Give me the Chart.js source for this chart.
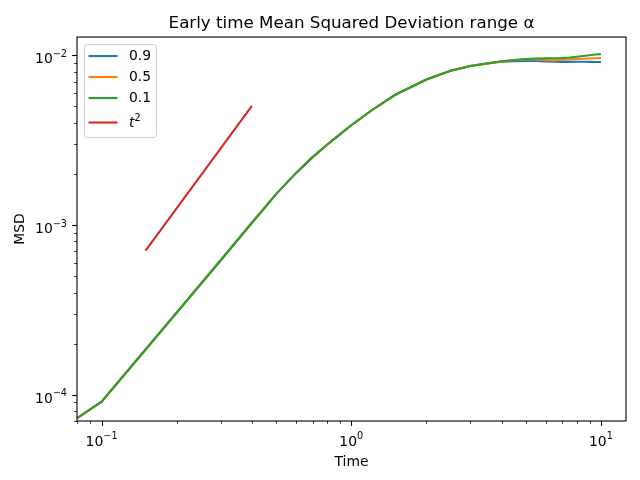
<!DOCTYPE html>
<html>
<head>
<meta charset="utf-8">
<title>Early time MSD</title>
<script src="https://cdn.jsdelivr.net/npm/chart.js@4.4.1/dist/chart.umd.min.js"></script>
<style>
    html, body { margin: 0; padding: 0; background: #ffffff; }
    #wrap { width: 640px; height: 480px; }
</style>
</head>
<body>
<div id="wrap"><canvas id="msd-chart" width="640" height="480"></canvas></div>
<script>
// Values
const times = [0.08, 0.1, 0.2, 0.3, 0.4, 0.5, 0.6, 0.7, 0.8, 0.9, 1.0, 1.2, 1.5, 2.0, 2.5, 3.0, 3.5,
               4.0, 4.5, 5.0, 5.5, 6.0, 6.5, 7.0, 7.5, 8.0, 8.5, 9.0, 9.5, 10.0];
const msdAlpha09 = [7.3e-5, 9.1e-5, 3.05e-4, 6.2e-4, 1.03e-3, 1.52e-3, 2.02e-3, 2.51e-3, 2.97e-3, 3.42e-3, 3.87e-3, 4.71e-3, 5.85e-3, 7.2e-3, 8.1e-3, 8.65e-3, 8.95e-3,
                    9.15e-3, 9.22e-3, 9.26e-3, 9.24e-3, 9.2e-3, 9.16e-3, 9.14e-3, 9.14e-3, 9.15e-3, 9.15e-3, 9.14e-3, 9.13e-3, 9.12e-3];
const msdAlpha05 = [7.3e-5, 9.1e-5, 3.05e-4, 6.2e-4, 1.03e-3, 1.52e-3, 2.02e-3, 2.51e-3, 2.97e-3, 3.42e-3, 3.87e-3, 4.71e-3, 5.85e-3, 7.2e-3, 8.1e-3, 8.65e-3, 8.95e-3,
                    9.2e-3, 9.35e-3, 9.45e-3, 9.43e-3, 9.36e-3, 9.33e-3, 9.4e-3, 9.46e-3, 9.5e-3, 9.54e-3, 9.57e-3, 9.6e-3, 9.62e-3];
const msdAlpha01 = [7.3e-5, 9.1e-5, 3.05e-4, 6.2e-4, 1.03e-3, 1.52e-3, 2.02e-3, 2.51e-3, 2.97e-3, 3.42e-3, 3.87e-3, 4.71e-3, 5.85e-3, 7.2e-3, 8.1e-3, 8.65e-3, 8.95e-3,
                    9.22e-3, 9.38e-3, 9.5e-3, 9.57e-3, 9.58e-3, 9.6e-3, 9.64e-3, 9.7e-3, 9.8e-3, 9.9e-3, 1.0e-2, 1.01e-2, 1.015e-2];
const refTimes = [0.15, 0.4];
const refT2 = [7.07e-4, 5.03e-3];

const seriesLabels = ['0.9', '0.5', '0.1', 't²'];
const xMajorTicks = [0.1, 1, 10];
const yMajorTicks = [1e-4, 1e-3, 1e-2];

const FONT = "'DejaVu Sans', 'Liberation Sans', sans-serif";
const BASE_SIZE = 13.9;
const SUP_SIZE = 9.7;
Chart.defaults.font.family = FONT;
Chart.defaults.color = '#000';

function toPoints(xs, ys) {
    return xs.map((x, i) => ({ x: x, y: ys[i] }));
}

// all decade multiples inside [min, max]
function minorTicks(min, max) {
    const out = [];
    for (let e = Math.floor(Math.log10(min)); e <= Math.ceil(Math.log10(max)); e++) {
        for (let m = 2; m <= 9; m++) {
            const v = m * Math.pow(10, e);
            if (v >= min && v <= max) out.push(v);
        }
    }
    return out;
}

// base text with a raised exponent, like matplotlib mathtext
function drawSup(ctx, base, exp, x, baseline, align, italic) {
    const baseFont = (italic ? 'italic ' : '') + BASE_SIZE + 'px ' + FONT;
    const supFont = SUP_SIZE + 'px ' + FONT;
    ctx.font = baseFont;
    const wb = ctx.measureText(base).width;
    ctx.font = supFont;
    const we = ctx.measureText(exp).width;
    let start = x;
    if (align === 'center') start = x - (wb + we) / 2;
    if (align === 'right') start = x - wb - we;
    ctx.textAlign = 'left';
    ctx.textBaseline = 'alphabetic';
    ctx.font = baseFont;
    ctx.fillText(base, start, baseline);
    ctx.font = supFont;
    ctx.fillText(exp, start + wb, baseline - 6.3);
}

function decadeExponent(v) {
    return String(Math.round(Math.log10(v))).replace('-', '\u2212');
}

// frame, matplotlib style tick marks and decade labels
const frameAndTicks = {
    id: 'frameAndTicks',
    afterDatasetsDraw(chart) {
        const { ctx, chartArea: a, scales: { x, y } } = chart;
        ctx.save();
        ctx.strokeStyle = '#000';
        ctx.lineWidth = 1.1;
        ctx.strokeRect(a.left, a.top, a.right - a.left, a.bottom - a.top);

        const mark = (vals, scale, len, width, horizontal) => {
            ctx.lineWidth = width;
            vals.forEach(v => {
                const p = Math.round(scale.getPixelForValue(v)) + 0.5;
                ctx.beginPath();
                if (horizontal) {
                    ctx.moveTo(p, a.bottom);
                    ctx.lineTo(p, a.bottom + len);
                } else {
                    ctx.moveTo(a.left, p);
                    ctx.lineTo(a.left - len, p);
                }
                ctx.stroke();
            });
        };
        mark(xMajorTicks, x, 4.9, 1.1, true);
        mark(minorTicks(x.min, x.max), x, 2.8, 0.8, true);
        mark(yMajorTicks, y, 4.9, 1.1, false);
        mark(minorTicks(y.min, y.max), y, 2.8, 0.8, false);

        ctx.fillStyle = '#000';
        xMajorTicks.forEach(v => {
            drawSup(ctx, '10', decadeExponent(v), x.getPixelForValue(v), a.bottom + 24.5, 'center', false);
        });
        yMajorTicks.forEach(v => {
            drawSup(ctx, '10', decadeExponent(v), a.left - 10, y.getPixelForValue(v) + 8, 'right', false);
        });
        ctx.restore();
    }
};

// legend box in the upper left corner of the axes
const insideLegend = {
    id: 'insideLegend',
    afterDraw(chart) {
        const { ctx, chartArea: a } = chart;
        const left = a.left + 7.5, top = a.top + 7.5, w = 72, h = 93;
        ctx.save();
        ctx.beginPath();
        ctx.roundRect(left, top, w, h, 3);
        ctx.fillStyle = 'rgba(255,255,255,0.8)';
        ctx.fill();
        ctx.strokeStyle = '#cccccc';
        ctx.lineWidth = 1;
        ctx.stroke();

        const rowY = [11.5, 32.5, 53.5, 78];
        chart.data.datasets.forEach((ds, i) => {
            const yy = top + rowY[i];
            ctx.strokeStyle = ds.borderColor;
            ctx.lineWidth = 2.1;
            ctx.beginPath();
            ctx.moveTo(left + 4, yy);
            ctx.lineTo(left + 33, yy);
            ctx.stroke();
            ctx.fillStyle = '#000';
            if (ds.mathParts) {
                drawSup(ctx, ds.mathParts[0], ds.mathParts[1], left + 44.5, yy + 4.8, 'left', true);
            } else {
                ctx.textBaseline = 'middle';
                ctx.textAlign = 'left';
                ctx.font = BASE_SIZE + 'px ' + FONT;
                ctx.fillText(ds.label, left + 44.5, yy);
            }
        });
        ctx.restore();
    }
};

const lineStyle = { borderWidth: 2.1, pointRadius: 0, tension: 0, fill: false };

new Chart(document.getElementById('msd-chart'), {
    type: 'line',
    data: {
        datasets: [
            { label: seriesLabels[0], data: toPoints(times, msdAlpha09), borderColor: '#1f77b4', order: 3, ...lineStyle },
            { label: seriesLabels[1], data: toPoints(times, msdAlpha05), borderColor: '#ff7f0e', order: 2, ...lineStyle },
            { label: seriesLabels[2], data: toPoints(times, msdAlpha01), borderColor: '#2ca02c', order: 1, ...lineStyle },
            { label: seriesLabels[3], data: toPoints(refTimes, refT2), borderColor: '#d62728', order: 0, mathParts: ['t', '2'], ...lineStyle }
        ]
    },
    options: {
        responsive: false,
        animation: false,
        layout: { padding: { top: 0, right: 14, bottom: 0, left: 0 } },
        plugins: {
            legend: { display: false },
            tooltip: { enabled: false },
            title: {
                display: true,
                text: 'Early time Mean Squared Deviation range α',
                fullSize: false,
                color: '#000',
                font: { size: 16.7, weight: 'normal', lineHeight: 1.2 },
                padding: { top: 14, bottom: 3 }
            }
        },
        scales: {
            x: {
                type: 'logarithmic',
                min: 0.0797,
                max: 12.6,
                grid: { display: false },
                border: { display: false },
                afterFit: s => { s.height = 59; },
                ticks: { display: false },
                title: { display: true, text: 'Time', color: '#000', font: { size: 13.9 }, padding: { top: 9, bottom: 9 } }
            },
            y: {
                type: 'logarithmic',
                min: 7.24e-5,
                max: 0.0128,
                grid: { display: false },
                border: { display: false },
                afterFit: s => { s.width = 77; },
                ticks: { display: false },
                title: { display: true, text: 'MSD', color: '#000', font: { size: 13.9 }, padding: { top: 12, bottom: 12 } }
            }
        }
    },
    plugins: [frameAndTicks, insideLegend]
});
</script>
</body>
</html>
